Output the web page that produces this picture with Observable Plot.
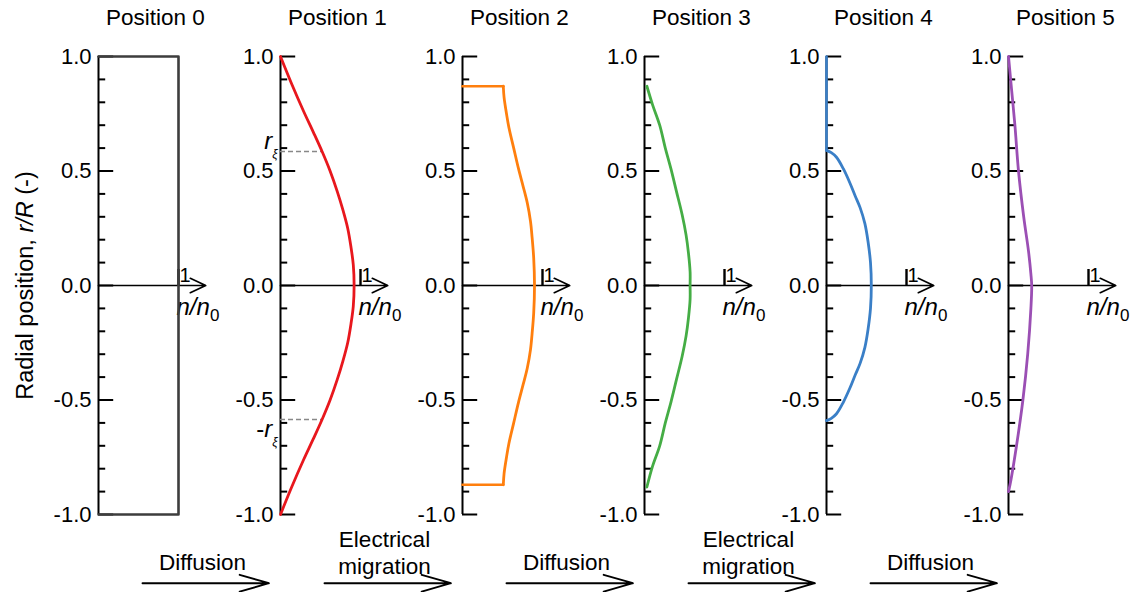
<!DOCTYPE html>
<html><head><meta charset="utf-8">
<script src="https://cdn.jsdelivr.net/npm/d3@7"></script>
<script src="https://cdn.jsdelivr.net/npm/@observablehq/plot@0.6"></script>
<style>
body{margin:0;background:#fff}
#chart svg{display:block;font-family:"Liberation Sans",Arial,sans-serif}
</style>
</head><body><div id="chart"></div>
<script>
// ---- data ----
const positions = ["Position 0","Position 1","Position 2","Position 3","Position 4","Position 5"];
const colors = ["#3d3d3d","#e8171d","#ff7f0e","#45ad45","#3a7fc7","#9b4fb4"];
const processes = ["Diffusion","Electrical\nmigration","Diffusion","Electrical\nmigration","Diffusion"];
const majorTicks = [1, 0.5, 0, -0.5, -1];
const minorTicks = [0.9,0.8,0.7,0.6,0.4,0.3,0.2,0.1,-0.1,-0.2,-0.3,-0.4,-0.6,-0.7,-0.8,-0.9];
const unitTick = 1;            // n/n0 = 1 tick
const rXi = 0.585;             // r_xi in Position 1

// straight pieces [n, r]
const profile0 = [[0,1],[1,1],[1,-1],[0,-1]];
const profile2TopCap = [[0,0.87],[0.51,0.87]];
const profile2BotCap = [[0,-0.87],[0.51,-0.87]];
const profile4Axis = [[0,1],[0,0.59]];
// curved pieces [n, r]
const profile1 = [[0,1],[0.14,0.88],[0.29,0.76],[0.41,0.67],[0.52,0.585],[0.62,0.5],[0.71,0.41],[0.78,0.33],[0.84,0.25],[0.88,0.17],[0.91,0.09],[0.92,0],
  [0.91,-0.09],[0.88,-0.17],[0.84,-0.25],[0.78,-0.33],[0.71,-0.41],[0.62,-0.5],[0.52,-0.585],[0.41,-0.67],[0.29,-0.76],[0.14,-0.88],[0,-1]];
const profile2 = [[0.51,0.87],[0.52,0.82],[0.55,0.75],[0.58,0.69],[0.64,0.6],[0.7,0.51],[0.76,0.43],[0.81,0.36],[0.85,0.28],[0.87,0.21],[0.89,0.12],[0.9,0],
  [0.89,-0.12],[0.87,-0.21],[0.85,-0.28],[0.81,-0.36],[0.76,-0.43],[0.7,-0.51],[0.64,-0.6],[0.58,-0.69],[0.55,-0.75],[0.52,-0.82],[0.51,-0.87]];
const profile3 = [[0.03,0.87],[0.1,0.79],[0.19,0.7],[0.26,0.6],[0.33,0.51],[0.4,0.41],[0.47,0.31],[0.52,0.22],[0.55,0.14],[0.57,0.06],[0.57,0],
  [0.57,-0.06],[0.55,-0.14],[0.52,-0.22],[0.47,-0.31],[0.4,-0.41],[0.33,-0.51],[0.26,-0.6],[0.19,-0.7],[0.1,-0.79],[0.03,-0.88]];
const profile4 = [[0,0.59],[0.06,0.58],[0.125,0.56],[0.21,0.51],[0.29,0.45],[0.36,0.39],[0.42,0.34],[0.48,0.27],[0.52,0.19],[0.55,0.1],[0.56,0],
  [0.55,-0.1],[0.52,-0.19],[0.48,-0.27],[0.42,-0.34],[0.36,-0.39],[0.29,-0.45],[0.21,-0.51],[0.125,-0.56],[0.06,-0.58],[0,-0.59]];
const profile5 = [[0,1],[0.04,0.85],[0.08,0.7],[0.125,0.5],[0.19,0.3],[0.25,0.15],[0.28,0.05],[0.29,0],[0.28,-0.1],[0.24,-0.3],[0.18,-0.5],[0.1,-0.7],[0.03,-0.85],[0,-0.9]];

// ---- layout constants ----
const G = 2.275;           // panel spacing in n/n0 units
const W = 1142, H = 592;
const pxPerUnit = 80;
const x0px = 98;

const straight = [
  {panel:0, pts:profile0},{panel:2, pts:profile2TopCap},{panel:2, pts:profile2BotCap},{panel:4, pts:profile4Axis}
];
const curved = [
  {panel:1, pts:profile1},{panel:2, pts:profile2},{panel:3, pts:profile3},{panel:4, pts:profile4},{panel:5, pts:profile5}
];
const toRows = segs => segs.flatMap((s,i) => s.pts.map(([n,r]) => ({seg:i, panel:s.panel, x:s.panel*G+n, r, color:colors[s.panel]})));
const straightRows = toRows(straight);
const curvedRows = toRows(curved);

const panels = positions.map((p,i) => ({i, title:p, o:i*G}));
const major = panels.flatMap(p => majorTicks.map(t => ({o:p.o, t, label:t.toFixed(1)})));
const minor = panels.flatMap(p => minorTicks.map(t => ({o:p.o, t})));
const procRows = processes.map((t,i) => ({t, o:i*G, two: t.includes("\n")}));

const font = "Liberation Sans, Arial, sans-serif";

const chart = Plot.plot({
  width: W, height: H,
  marginLeft: 0, marginRight: 0, marginTop: 56, marginBottom: 78,
  x: {domain: [-x0px/pxPerUnit, (W-x0px)/pxPerUnit], axis: null},
  y: {domain: [-1, 1], axis: null},
  style: {fontFamily: font, background: "#fff"},
  marks: [
    // vertical axes
    Plot.ruleX(panels, {x: "o", y1: -1, y2: 1, stroke: "#000", strokeWidth: 2}),
    Plot.ruleY(major, {y: "t", x1: "o", x2: d => d.o + 0.19, stroke: "#000", strokeWidth: 2}),
    Plot.ruleY(minor, {y: "t", x1: "o", x2: d => d.o + 0.09, stroke: "#000", strokeWidth: 2}),
    Plot.text(major, {x: "o", y: "t", text: "label", textAnchor: "end", dx: -7, fontSize: 22, fill: "#000"}),
    // horizontal n/n0 axes
    Plot.arrow(panels, {x1: "o", y1: 0, x2: d => d.o + 1.34, y2: 0, stroke: "#000", strokeWidth: 1.7, headLength: 15, headAngle: 50}),
    Plot.ruleX(panels, {x: d => d.o + unitTick, y1: 0, y2: 0.07, stroke: "#000", strokeWidth: 2.4}),
    Plot.text(panels, {x: d => d.o + unitTick, y: 0.045, text: d => "1", textAnchor: "start", dx: 1, fontSize: 20, fill: "#000"}),
    Plot.text(panels, {x: d => d.o + unitTick, y: -0.095, text: d => "n/n0", textAnchor: "start", dx: -2, fontSize: 24, fill: "#000"}),
    // titles
    Plot.text(panels, {x: d => d.o + 0.71, y: 1.17, text: "title", fontSize: 22.5, fill: "#000"}),
    // r_xi markers
    Plot.ruleY([rXi, -rXi], {y: d => d, x1: G, x2: d => G + 0.52, stroke: "#888", strokeWidth: 1.6, strokeDasharray: "5,3"}),
    Plot.text([{y: 0.63, t: "rξ"}, {y: -0.63, t: "-rξ"}], {x: G, y: "y", text: "t", textAnchor: "end", dx: -3, fontSize: 24, fill: "#000"}),
    // profiles
    Plot.line(straightRows, {x: "x", y: "r", z: "seg", stroke: "color", strokeWidth: 2.6, curve: "linear"}),
    Plot.line(curvedRows, {x: "x", y: "r", z: "seg", stroke: "color", strokeWidth: 2.8, curve: "catmull-rom"}),
    // process arrows
    Plot.arrow(procRows, {x1: d => d.o + 0.55, x2: d => d.o + 2.13, y1: -1.3, y2: -1.3, stroke: "#000", strokeWidth: 1.9, headLength: 24, headAngle: 32}),
    Plot.text(procRows, {x: d => d.o + 1.3, y: d => d.two ? -1.262 : -1.242, text: "t", lineAnchor: "bottom", lineHeight: 1.22, fontSize: 22.5, fill: "#000"}),
    // y label
    Plot.text(["Radial position, r/R (-)"], {frameAnchor: "left", y: 0, text: d => d, rotate: -90, textAnchor: "middle", dx: 25, fontSize: 23.5, fill: "#000"})
  ]
});

// rich text (italic variables, subscripts)
d3.select(chart).selectAll("text").each(function() {
  const el = d3.select(this);
  const s = this.textContent;
  if (s === "n/n0") {
    el.text(null);
    el.append("tspan").attr("font-style", "italic").text("n/n");
    el.append("tspan").attr("font-size", 17).attr("dy", 6).text("0");
  } else if (s === "rξ" || s === "-rξ") {
    el.text(null);
    if (s[0] === "-") el.append("tspan").text("-");
    el.append("tspan").attr("font-style", "italic").text("r");
    el.append("tspan").attr("font-size", 12).attr("dy", 9).attr("font-style", "italic").text("ξ");
  } else if (s === "Radial position, r/R (-)") {
    el.text(null);
    el.append("tspan").text("Radial position, ");
    el.append("tspan").attr("font-style", "italic").text("r/R");
    el.append("tspan").text(" (-)");
  }
});

document.getElementById("chart").appendChild(chart);
</script>
</body></html>
